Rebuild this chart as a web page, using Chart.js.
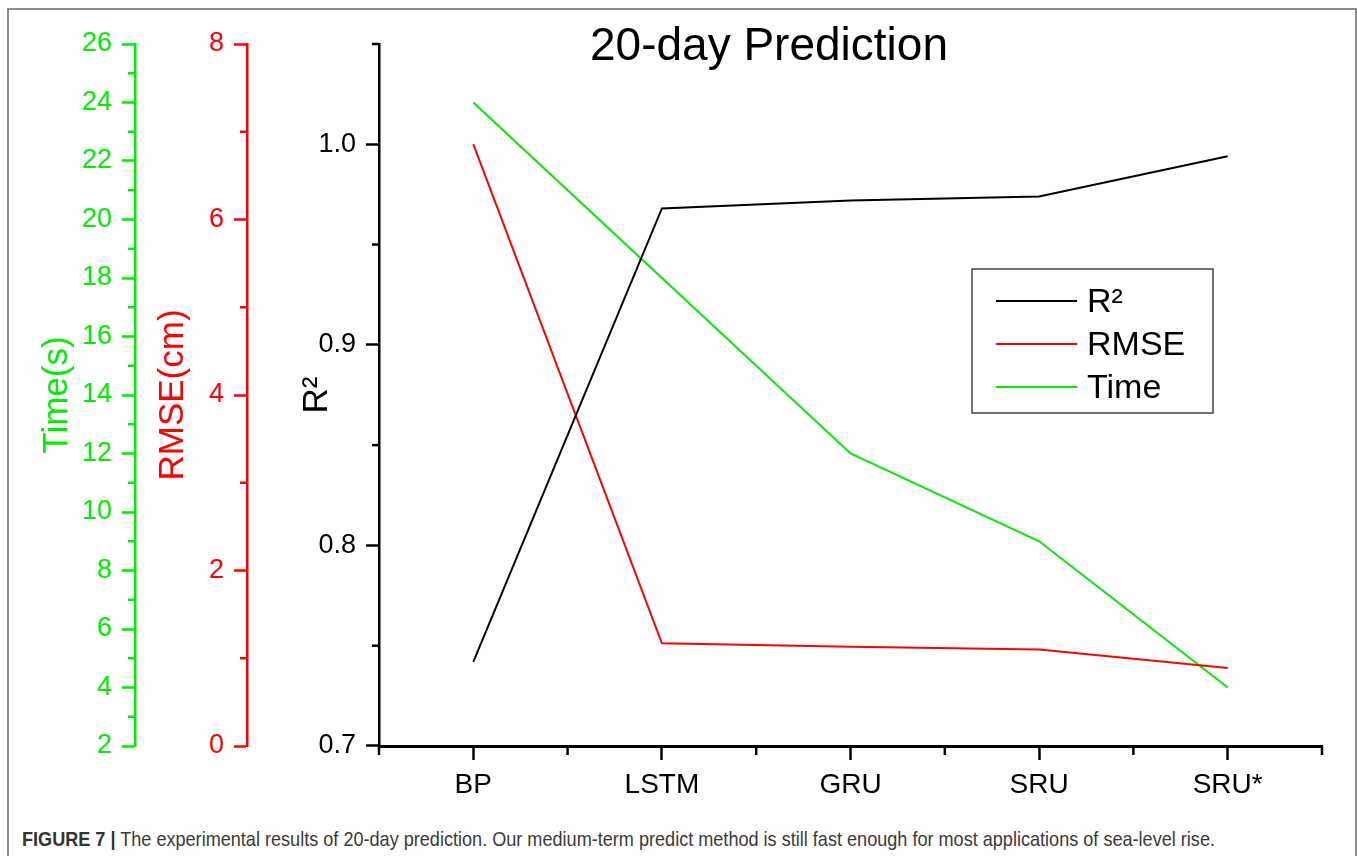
<!DOCTYPE html>
<html>
<head>
<meta charset="utf-8">
<script src="https://cdn.jsdelivr.net/npm/chart.js@4.4.1/dist/chart.umd.min.js"></script>
<style>
  html, body { margin: 0; padding: 0; background: #fff; }
  body { width: 1357px; height: 856px; overflow: hidden; position: relative; font-family: "Liberation Sans", Arial, sans-serif; }
  #frame { position: absolute; left: 7px; top: 8px; width: 1350px; height: 900px; border: 2px solid #8c8c8c; box-sizing: border-box; }
  #wrap { position: absolute; left: 0; top: 0; width: 1357px; height: 810px; }
  #caption { position: absolute; left: 22px; top: 827px; font-size: 21px; color: #3a3a3a; white-space: nowrap; transform-origin: 0 0; }
  #caption b { color: #333; }
</style>
</head>
<body>
<div id="frame"></div>
<div id="wrap"><canvas id="predChart" width="1357" height="810"></canvas></div>
<div id="caption"><b>FIGURE 7 |</b> The experimental results of 20-day prediction. Our medium-term predict method is still fast enough for most applications of sea-level rise.</div>
<script>
const categories = ["BP", "LSTM", "GRU", "SRU", "SRU*"];
const r2Values = [0.742, 0.968, 0.972, 0.974, 0.994];
const rmseValues = [6.86, 1.17, 1.13, 1.10, 0.89];
const timeValues = [24.0, 18.0, 12.0, 9.0, 4.0];

// minor tick positions on each axis
const timeMinor = [3, 5, 7, 9, 11, 13, 15, 17, 19, 21, 23, 25];
const rmseMinor = [1, 3, 5, 7];
const r2Minor = [0.75, 0.85, 0.95, 1.05];
const xMinor = [-0.5, 0.5, 1.5, 2.5, 3.5, 4.5];

const GREEN = "#00ee00";
const RED = "#ff0000";
const BLACK = "#000000";
const FONT = '"Liberation Sans", Arial, sans-serif';

const minorTicks = {
  id: "minorTicks",
  afterDraw(chart) {
    const ctx = chart.ctx;
    ctx.save();
    ctx.lineWidth = 2.5;
    [["yTime", timeMinor, GREEN], ["yRmse", rmseMinor, RED], ["yR2", r2Minor, BLACK]].forEach(([id, vals, col]) => {
      const s = chart.scales[id];
      ctx.strokeStyle = col;
      vals.forEach(v => {
        const y = s.getPixelForValue(v);
        ctx.beginPath();
        ctx.moveTo(s.right - 7, y);
        ctx.lineTo(s.right, y);
        ctx.stroke();
      });
    });
    const xs = chart.scales.x;
    ctx.strokeStyle = BLACK;
    xMinor.forEach(v => {
      const x = xs.getPixelForValue(v);
      ctx.beginPath();
      ctx.moveTo(x, xs.top);
      ctx.lineTo(x, xs.top + 9);
      ctx.stroke();
    });
    ctx.restore();
  }
};

const titleAndLegend = {
  id: "titleAndLegend",
  afterDraw(chart) {
    const ctx = chart.ctx;
    ctx.save();
    ctx.fillStyle = BLACK;
    ctx.font = "46px " + FONT;
    ctx.textAlign = "center";
    ctx.textBaseline = "alphabetic";
    ctx.fillText("20-day Prediction", 769, 60);

    const x0 = 972, y0 = 269, w = 241, h = 144;
    ctx.fillStyle = "#fff";
    ctx.fillRect(x0, y0, w, h);
    ctx.strokeStyle = "#444";
    ctx.lineWidth = 1.5;
    ctx.strokeRect(x0, y0, w, h);
    ctx.textAlign = "left";
    ctx.textBaseline = "middle";
    ctx.font = "34px " + FONT;
    chart.data.datasets.forEach((ds, i) => {
      const y = 301 + i * 43;
      ctx.strokeStyle = ds.borderColor;
      ctx.lineWidth = 2;
      ctx.beginPath();
      ctx.moveTo(996, y);
      ctx.lineTo(1077, y);
      ctx.stroke();
      ctx.fillStyle = BLACK;
      ctx.fillText(ds.label, 1087, y + 2);
    });
    ctx.restore();
  }
};

function yAxis(color, min, max, step, weight, width, titleText, titlePad, fmt) {
  return {
    type: "linear",
    position: "left",
    weight: weight,
    min: min,
    max: max,
    grid: { drawOnChartArea: false, drawTicks: true, tickLength: 13, tickWidth: 2.5, tickColor: color },
    border: { display: true, color: color, width: 2.5 },
    ticks: {
      stepSize: step,
      includeBounds: false,
      color: color,
      padding: 10,
      font: { size: 27, family: FONT },
      callback: fmt
    },
    title: {
      display: true,
      text: titleText,
      color: color,
      font: { size: 35, family: FONT },
      padding: { top: titlePad, bottom: 0 }
    },
    afterFit(s) { s.width = width; }
  };
}

const ctx = document.getElementById("predChart").getContext("2d");
window.predChart = new Chart(ctx, {
  type: "line",
  data: {
    labels: categories,
    datasets: [
      { label: "R\u00b2", data: r2Values, yAxisID: "yR2", borderColor: BLACK, borderWidth: 2, pointRadius: 0, tension: 0, fill: false },
      { label: "RMSE", data: rmseValues, yAxisID: "yRmse", borderColor: RED, borderWidth: 2, pointRadius: 0, tension: 0, fill: false },
      { label: "Time", data: timeValues, yAxisID: "yTime", borderColor: GREEN, borderWidth: 2, pointRadius: 0, tension: 0, fill: false }
    ]
  },
  options: {
    responsive: false,
    animation: false,
    devicePixelRatio: 1,
    layout: { padding: { left: 30, top: 44, right: 35, bottom: 0 } },
    plugins: { legend: { display: false }, title: { display: false }, tooltip: { enabled: false } },
    scales: {
      x: {
        type: "category",
        offset: true,
        grid: { drawOnChartArea: false, drawTicks: true, tickLength: 14, tickWidth: 2.5, tickColor: BLACK, offset: false },
        border: { color: BLACK, width: 3 },
        ticks: { color: BLACK, padding: 8, maxRotation: 0, autoSkip: false, font: { size: 28, family: FONT } },
        afterFit(s) { s.height = 64; }
      },
      yTime: yAxis(GREEN, 2, 26, 2, 2, 105, "Time(s)", 6, v => v),
      yRmse: yAxis(RED, 0, 8, 2, 1, 112, "RMSE(cm)", 17, v => v),
      yR2: yAxis(BLACK, 0.7, 1.05, 0.1, 0, 132, "R\u00b2", 49, v => v.toFixed(1))
    }
  },
  plugins: [minorTicks, titleAndLegend]
});

// squeeze the caption to the reference width
const cap = document.getElementById("caption");
const capW = cap.getBoundingClientRect().width;
cap.style.transform = "scaleX(" + (1193 / capW) + ")";
</script>
</body>
</html>
